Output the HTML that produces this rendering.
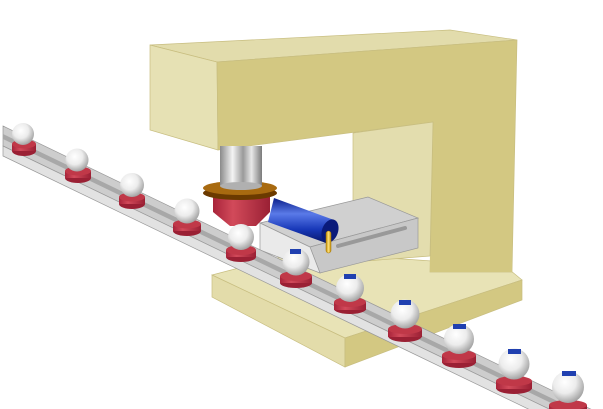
<!DOCTYPE html>
<html><head><style>html,body{margin:0;padding:0;background:#fff;width:603px;height:409px;overflow:hidden}svg{display:block}</style></head>
<body>
<svg width="603" height="409" viewBox="0 0 603 409" xmlns="http://www.w3.org/2000/svg">
<defs>
<linearGradient id="silver" x1="0" x2="1" y1="0" y2="0">
<stop offset="0" stop-color="#8a8a8a"/><stop offset="0.3" stop-color="#f4f4f4"/><stop offset="0.55" stop-color="#9a9a9a"/><stop offset="0.75" stop-color="#e8e8e8"/><stop offset="1" stop-color="#7a7a7a"/></linearGradient>
<linearGradient id="blue" x1="0" x2="0" y1="0" y2="1">
<stop offset="0" stop-color="#0a1f8a"/><stop offset="0.35" stop-color="#5a7ae8"/><stop offset="0.7" stop-color="#1838b8"/><stop offset="1" stop-color="#08176a"/></linearGradient>
<radialGradient id="ball" cx="0.4" cy="0.35" r="0.7">
<stop offset="0" stop-color="#ffffff"/><stop offset="0.5" stop-color="#ececec"/><stop offset="1" stop-color="#9a9a9a"/></radialGradient>
<linearGradient id="red" x1="0" x2="1"><stop offset="0" stop-color="#a8243a"/><stop offset="0.35" stop-color="#d24a5a"/><stop offset="1" stop-color="#9a2034"/></linearGradient>
<linearGradient id="gold" x1="0" x2="1"><stop offset="0" stop-color="#c08a00"/><stop offset="0.5" stop-color="#ffe27a"/><stop offset="1" stop-color="#c08a00"/></linearGradient>
</defs>
<polygon points="212,275 300,252 505,266 522,280 345,338" fill="#e8e3b6" stroke="#c8be80" stroke-width="0.7"/>
<polygon points="212,275 345,338 345,367 212,297" fill="#e3dcaa" stroke="#c8be80" stroke-width="0.7"/>
<polygon points="345,338 522,280 522,300 345,367" fill="#d3c882" stroke="#c8be80" stroke-width="0.7"/>
<polygon points="150,45 450,30 517,40 217,62" fill="#e2dcac" stroke="#c8be80" stroke-width="0.7"/>
<polygon points="150,45 217,62 218,150 150,130" fill="#e6e1b4" stroke="#c8be80" stroke-width="0.7"/>
<polygon points="217,62 517,40 512,272 430,272 433,122 218,150" fill="#d3c882" stroke="#c8be80" stroke-width="0.7"/>
<polygon points="353,133 433,122 430,256 353,262" fill="#e3ddae" stroke="#c8be80" stroke-width="0.7"/>
<polygon points="430,256 512,262 512,272 430,272" fill="#d3c882"/>
<polygon points="260,223 368,197 418,218 310,247" fill="#d0d0d0" stroke="#999" stroke-width="0.7"/>
<polygon points="310,247 418,218 418,248 320,273" fill="#c8c8c8" stroke="#999" stroke-width="0.7"/>
<polygon points="260,223 310,247 320,273 260,250" fill="#eaeaea" stroke="#999" stroke-width="0.7"/>
<line x1="338" y1="246" x2="405" y2="228" stroke="#999" stroke-width="4" stroke-linecap="round"/>
<polygon points="3,126 603,415 603,435 3,146" fill="#cdcdcd" stroke="#999" stroke-width="0.7"/>
<polygon points="3,146 603,435 603,445 3,156" fill="#e2e2e2" stroke="#999" stroke-width="0.7"/>
<polygon points="3,134 603,423 603,428 3,139" fill="#a8a8a8"/>
<rect x="220" y="146" width="42" height="42" fill="url(#silver)"/>
<path d="M213,196 L270,196 L270,212 L256,226 L230,226 L213,212 Z" fill="url(#red)"/>
<ellipse cx="240" cy="193" rx="37" ry="7" fill="#6b3a00"/>
<ellipse cx="240" cy="188" rx="37" ry="7" fill="#a86a10"/>
<rect x="220" y="170" width="42" height="16" fill="url(#silver)"/>
<ellipse cx="241" cy="186" rx="21" ry="4" fill="#b0b0b0"/>
<polygon points="274,198 334,220 326,243 268,222" fill="url(#blue)"/>
<ellipse cx="330" cy="231" rx="8" ry="12" transform="rotate(20 330 231)" fill="#0a1a7a"/>
<rect x="326" y="231" width="5" height="22" rx="2.5" fill="url(#gold)" stroke="#a07000" stroke-width="0.5"/>
<g>
<g transform="translate(24,147)"><ellipse cy="4" rx="12" ry="5" fill="#9a2034"/><rect x="-12" y="-3" width="24" height="7" fill="url(#red)"/><ellipse cy="-3" rx="12" ry="4.5" fill="#c03848"/><circle cx="-1" cy="-13" r="11" fill="url(#ball)"/></g>
<g transform="translate(78,174)"><ellipse cy="4" rx="13" ry="5" fill="#9a2034"/><rect x="-13" y="-3" width="26" height="7" fill="url(#red)"/><ellipse cy="-3" rx="13" ry="4.5" fill="#c03848"/><circle cx="-1" cy="-14" r="11.5" fill="url(#ball)"/></g>
<g transform="translate(132,200)"><ellipse cy="4" rx="13" ry="5" fill="#9a2034"/><rect x="-13" y="-3" width="26" height="7" fill="url(#red)"/><ellipse cy="-3" rx="13" ry="4.5" fill="#c03848"/><circle cx="0" cy="-15" r="12" fill="url(#ball)"/></g>
<g transform="translate(187,227)"><ellipse cy="4" rx="14" ry="5" fill="#9a2034"/><rect x="-14" y="-3" width="28" height="7" fill="url(#red)"/><ellipse cy="-3" rx="14" ry="4.5" fill="#c03848"/><circle cx="0" cy="-16" r="12.5" fill="url(#ball)"/></g>
<g transform="translate(241,253)"><ellipse cy="4" rx="15" ry="5" fill="#9a2034"/><rect x="-15" y="-3" width="30" height="7" fill="url(#red)"/><ellipse cy="-3" rx="15" ry="5" fill="#c03848"/><circle cx="0" cy="-16" r="13" fill="url(#ball)"/></g>
<g transform="translate(296,279)"><ellipse cy="4" rx="16" ry="5" fill="#9a2034"/><rect x="-16" y="-3" width="32" height="7" fill="url(#red)"/><ellipse cy="-3" rx="16" ry="5" fill="#c03848"/><circle cx="0" cy="-17" r="13.5" fill="url(#ball)"/><rect x="-6" y="-30" width="11" height="5" fill="#2040b0"/></g>
<g transform="translate(350,305)"><ellipse cy="4" rx="16" ry="5" fill="#9a2034"/><rect x="-16" y="-3" width="32" height="8" fill="url(#red)"/><ellipse cy="-3" rx="16" ry="5" fill="#c03848"/><circle cx="0" cy="-17" r="14" fill="url(#ball)"/><rect x="-6" y="-31" width="12" height="5" fill="#2040b0"/></g>
<g transform="translate(405,332)"><ellipse cy="4" rx="17" ry="6" fill="#9a2034"/><rect x="-17" y="-3" width="34" height="8" fill="url(#red)"/><ellipse cy="-3" rx="17" ry="5" fill="#c03848"/><circle cx="0" cy="-18" r="14.5" fill="url(#ball)"/><rect x="-6" y="-32" width="12" height="5" fill="#2040b0"/></g>
<g transform="translate(459,358)"><ellipse cy="4" rx="17" ry="6" fill="#9a2034"/><rect x="-17" y="-3" width="34" height="8" fill="url(#red)"/><ellipse cy="-3" rx="17" ry="5" fill="#c03848"/><circle cx="0" cy="-19" r="15" fill="url(#ball)"/><rect x="-6" y="-34" width="13" height="5" fill="#2040b0"/></g>
<g transform="translate(514,384)"><ellipse cy="4" rx="18" ry="6" fill="#9a2034"/><rect x="-18" y="-3" width="36" height="8" fill="url(#red)"/><ellipse cy="-3" rx="18" ry="5" fill="#c03848"/><circle cx="0" cy="-20" r="15.5" fill="url(#ball)"/><rect x="-6" y="-35" width="13" height="5" fill="#2040b0"/></g>
<g transform="translate(568,408)"><ellipse cy="4" rx="19" ry="6" fill="#9a2034"/><rect x="-19" y="-3" width="38" height="8" fill="url(#red)"/><ellipse cy="-3" rx="19" ry="5" fill="#c03848"/><circle cx="0" cy="-21" r="16" fill="url(#ball)"/><rect x="-6" y="-37" width="14" height="5" fill="#2040b0"/></g>
</g>
</svg>
</body></html>
